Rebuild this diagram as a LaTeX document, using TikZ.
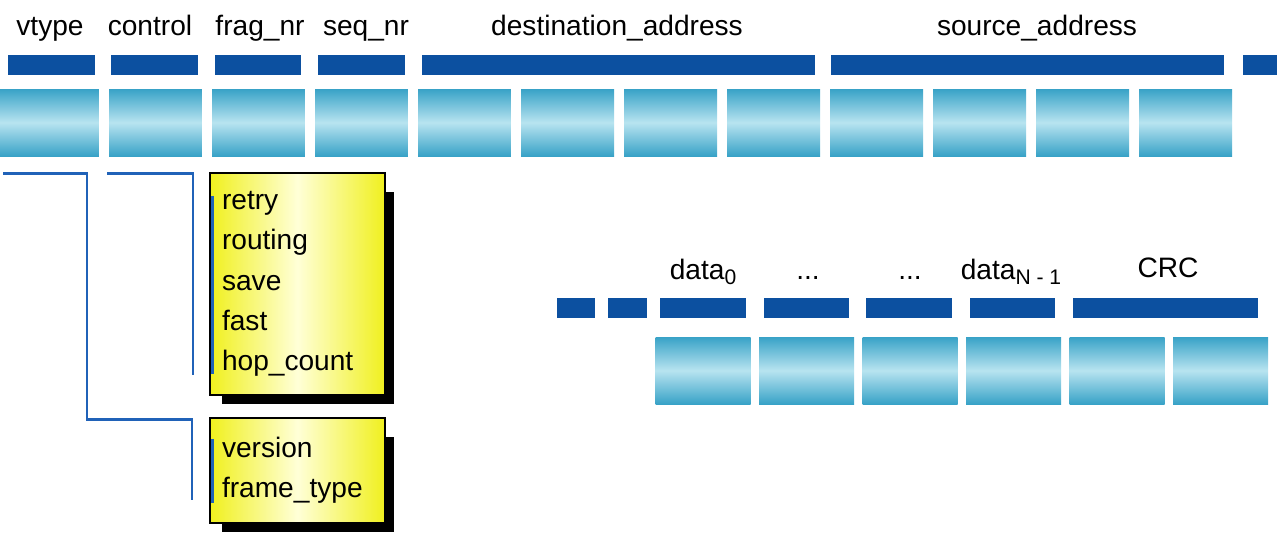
\documentclass[tikz,border=0pt]{standalone}
\usepackage{fontspec}
\setmainfont{Liberation Sans}
\usepackage{tikz}
\usetikzlibrary{calc}
\usetikzlibrary{backgrounds}
\definecolor{barblue}{RGB}{12,80,160}
\definecolor{linkblue}{RGB}{32,98,184}
\definecolor{cyandark}{RGB}{56,162,199}
\definecolor{cyanlight}{RGB}{184,228,240}
\definecolor{boxyellow}{RGB}{240,240,30}
\definecolor{boxpale}{RGB}{255,255,215}
\newcommand{\lowidx}[1]{\raisebox{-0.4ex}{\fontsize{12}{12}\selectfont #1}}

\begin{document}
\begin{tikzpicture}[x=0.02cm, y=-0.02cm,
    lbl/.style={font=\fontsize{16}{19}\selectfont, anchor=base, inner sep=0pt},
    fieldbar/.style={fill=barblue, minimum height=0.4cm, inner sep=0pt},
    octet/.style={shading=axis, top color=cyandark, bottom color=cyandark,
      middle color=cyanlight, minimum width=1.86cm, minimum height=1.34cm, inner sep=0pt},
    flagbox/.style={draw=black, line width=1.2pt, shading=axis, left color=boxyellow,
      right color=boxyellow, middle color=boxpale, align=left, text width=3.02cm,
      inner xsep=0.24cm, font=\fontsize{16}{23}\selectfont},
    link/.style={draw=linkblue, line width=1.7pt}]
    \useasboundingbox (0,0) rectangle (1280,535);

    % header fields
    \node[lbl] (vtype) at (50,35) {vtype};
    \node[lbl] (control) at (150,35) {control};
    \node[lbl] (fragnr) at (260,35) {frag\_nr};
    \node[lbl] (seqnr) at (366,35) {seq\_nr};
    \node[lbl] (dest) at (617,35) {destination\_address};
    \node[lbl] (src) at (1037,35) {source\_address};

    \foreach \cx/\w [count=\k] in {51.5/87,154.5/87,258/86,361.5/87,618.5/393,1027.5/393,1260/34}
      \node[fieldbar, minimum width=\w*0.02cm] (tb\k) at (\cx,65) {};
    \node[octet, minimum width=1.98cm] (top0) at (49.5,122.5) {};
    \foreach \i in {1,...,11}
      \node[octet] (top\i) at ({52.5+103*\i},122.5) {};

    % payload fields
    \node[lbl] (data0) at (703,279) {data\lowidx{0}};
    \node[lbl] (dotsa) at (808,279) {...};
    \node[lbl] (dotsb) at (910,279) {...};
    \node[lbl] (datan) at (1011,279) {data\lowidx{N - 1}};
    \node[lbl] (crc) at (1168,277) {CRC};

    \foreach \cx/\w [count=\k] in {576/38,627.5/39,703/86,806.5/85,909/86,1012.5/85,1165.5/185}
      \node[fieldbar, minimum width=\w*0.02cm] (lb\k) at (\cx,308) {};
    \foreach \i in {0,...,5}
      \node[octet, minimum width=1.9cm] (low\i) at ({703+103.5*\i},370.5) {};

    % bit boxes
    \node[flagbox, minimum height=4.44cm] (ctrlbox) at (297.5,284)
      {retry\\routing\\save\\fast\\hop\_count};
    \node[flagbox, minimum height=2.1cm] (typebox) at (297.5,470.5)
      {version\\frame\_type};
    \begin{scope}[on background layer]
      \fill[black] ($(ctrlbox.north east)+(8,20)$) rectangle ($(ctrlbox.south west)+(13,8)$);
      \fill[black] ($(typebox.north east)+(8,20)$) rectangle ($(typebox.south west)+(13,8)$);
    \end{scope}
    \draw[linkblue, line width=1.2pt] ($(ctrlbox.north west)+(3.5,24)$) -- ($(ctrlbox.south west)+(3.5,-22)$);
    \draw[linkblue, line width=1.2pt] ($(typebox.north west)+(3.5,22)$) -- ($(typebox.south west)+(3.5,-21)$);

    % connectors
    \coordinate (vtstart) at (3,173);
    \coordinate (vtend) at (192,500);
    \coordinate (ctstart) at (107,173);
    \coordinate (ctend) at (193,375);
    \draw[link] (vtstart) -| (87,419) -| (vtend);
    \draw[link] (ctstart) -| (ctend);
\end{tikzpicture}
\end{document}
